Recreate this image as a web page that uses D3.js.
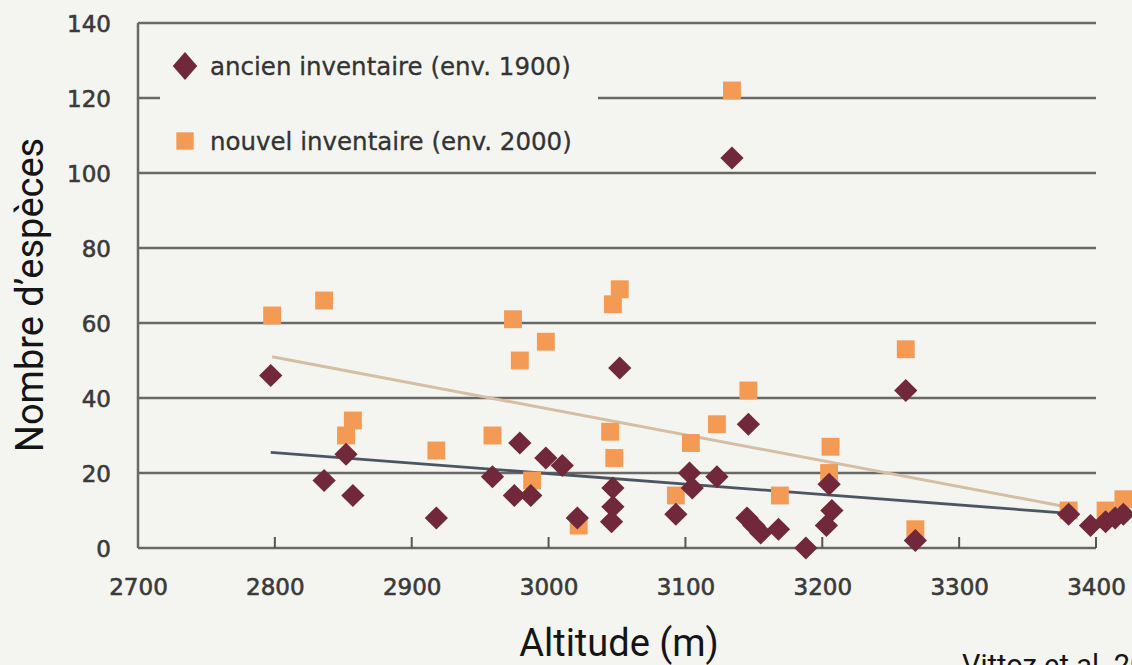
<!DOCTYPE html>
<html>
<head>
<meta charset="utf-8">
<script src="https://cdn.jsdelivr.net/npm/d3@7"></script>
<style>
  body { margin: 0; background: #f4f4f0; }
  svg { display: block; }
</style>
</head>
<body>
<div id="chart"></div>
<script>
'use strict';

// ticks
var xTicks = [2700, 2800, 2900, 3000, 3100, 3200, 3300, 3400];
var yTicks = [0, 20, 40, 60, 80, 100, 120, 140];

// ancien inventaire (env. 1900)
var ancienAlt = [2797, 2836, 2852, 2857, 2918, 2959, 2975, 2979, 2987, 2998, 3010, 3021,
                 3047, 3047, 3046, 3052, 3093, 3103, 3105, 3123, 3134, 3146, 3145, 3150,
                 3155, 3168, 3188, 3203, 3207, 3205, 3261, 3268, 3380, 3396, 3407, 3414, 3420];
var ancienNb  = [46, 18, 25, 14, 8, 19, 14, 28, 14, 24, 22, 8,
                 16, 11, 7, 48, 9, 20, 16, 19, 104, 33, 8, 6,
                 4, 5, 0, 6, 10, 17, 42, 2, 9, 6, 7, 8, 9];

// nouvel inventaire (env. 2000)
var nouvelAlt = [2798, 2836, 2852, 2857, 2918, 2959, 2974, 2979, 2988, 2998, 3022, 3045,
                 3047, 3048, 3052, 3093, 3104, 3123, 3134, 3146, 3169, 3206, 3205, 3261,
                 3268, 3380, 3407, 3420];
var nouvelNb  = [62, 66, 30, 34, 26, 30, 61, 50, 18, 55, 6, 31,
                 65, 24, 69, 14, 28, 33, 122, 42, 14, 27, 20, 53,
                 5, 10, 10, 13];

// droites de tendance
var ancienTrendAlt = [2797, 3378];
var ancienTrendNb  = [25.5, 9.3];
var nouvelTrendAlt = [2798, 3378];
var nouvelTrendNb  = [51, 11];

var legendNames = ['ancien inventaire (env. 1900)', 'nouvel inventaire (env. 2000)'];

var graf = {};
graf.w = 1132;
graf.h = 665;
graf.bg = '#f4f4f0';
graf.gridColor = '#686868';
graf.ancienColor = '#70283a';
graf.nouvelColor = '#f39a55';
graf.xScale = d3.scaleLinear().domain([2700, 3400]).range([138, 1096]);
graf.yScale = d3.scaleLinear().domain([0, 140]).range([548, 23]);

graf.appendSvg = function (div)
{
    var svg = d3.select(div).append('svg')
        .attr('width', graf.w)
        .attr('height', graf.h);
    svg.append('rect')
        .attr('width', graf.w)
        .attr('height', graf.h)
        .attr('fill', graf.bg);
    return svg;
}

graf.appendGrid = function (svg)
{
    var x0 = graf.xScale.range()[0], x1 = graf.xScale.range()[1];
    var grid = svg.append('g').attr('class', 'grid');
    grid.selectAll('line').data(yTicks).enter()
        .append('line')
        .attr('x1', x0)
        .attr('x2', x1)
        .attr('y1', function (d) { return graf.yScale(d); })
        .attr('y2', function (d) { return graf.yScale(d); })
        .attr('stroke', graf.gridColor)
        .attr('stroke-width', 2.5);

    // axe vertical
    svg.append('line')
        .attr('x1', x0).attr('x2', x0)
        .attr('y1', graf.yScale(140)).attr('y2', graf.yScale(0))
        .attr('stroke', graf.gridColor)
        .attr('stroke-width', 2.5);

    // petits traits de graduation sur l'axe x
    svg.append('g').selectAll('line').data(xTicks.slice(1)).enter()
        .append('line')
        .attr('x1', function (d) { return graf.xScale(d); })
        .attr('x2', function (d) { return graf.xScale(d); })
        .attr('y1', graf.yScale(0))
        .attr('y2', graf.yScale(0) - 11)
        .attr('stroke', '#555')
        .attr('stroke-width', 2);
}

graf.appendAxesLabels = function (svg)
{
    var xAxis = d3.axisBottom(graf.xScale).tickValues(xTicks).tickSize(0).tickPadding(0).tickFormat(d3.format('d'));
    var yAxis = d3.axisLeft(graf.yScale).tickValues(yTicks).tickSize(0).tickPadding(0);

    var gx = svg.append('g')
        .attr('class', 'xAxis')
        .attr('transform', 'translate(0,' + graf.yScale(0) + ')')
        .call(xAxis);
    var gy = svg.append('g')
        .attr('class', 'yAxis')
        .attr('transform', 'translate(111,0)')
        .call(yAxis);

    [gx, gy].forEach(function (g) {
        g.select('.domain').remove();
        g.selectAll('text')
            .style('font-family', '"DejaVu Sans", sans-serif')
            .style('font-size', '23px')
            .attr('fill', '#3a3a3a')
            .attr('stroke', '#3a3a3a')
            .attr('stroke-width', 0.6);
    });
    gx.selectAll('text').attr('dy', null).attr('y', 47);
    gy.selectAll('text').attr('x', 0).attr('dy', '0.36em');

    svg.append('text')
        .attr('transform', 'translate(43,295) rotate(-90)')
        .attr('text-anchor', 'middle')
        .style('font-family', 'Roboto, sans-serif')
        .style('font-size', '38px')
        .attr('fill', '#151515')
        .text('Nombre d\u2019esp\u00e8ces');

    svg.append('text')
        .attr('x', 619)
        .attr('y', 656)
        .attr('text-anchor', 'middle')
        .style('font-family', 'Roboto, sans-serif')
        .style('font-size', '38px')
        .attr('fill', '#151515')
        .text('Altitude (m)');

    svg.append('text')
        .attr('x', 962)
        .attr('y', 675)
        .style('font-family', 'Roboto, sans-serif')
        .style('font-size', '29px')
        .attr('fill', '#151515')
        .text('Vittoz et al. 2009');
}

graf.appendTrend = function (svg, alts, nbs, color, width)
{
    var pts = alts.map(function (a, i) { return [a, nbs[i]]; });
    var line = d3.line()
        .x(function (d) { return graf.xScale(d[0]); })
        .y(function (d) { return graf.yScale(d[1]); });
    svg.append('path')
        .attr('d', line(pts))
        .attr('fill', 'none')
        .attr('stroke', color)
        .attr('stroke-width', width);
}

graf.appendSquares = function (svg, alts, nbs)
{
    var sq = d3.symbol().type(d3.symbolSquare).size(320);
    svg.append('g').selectAll('path').data(alts).enter()
        .append('path')
        .attr('d', sq)
        .attr('transform', function (d, i) { return 'translate(' + graf.xScale(d) + ',' + graf.yScale(nbs[i]) + ')'; })
        .attr('fill', graf.nouvelColor);
}

graf.appendDiamonds = function (svg, alts, nbs)
{
    var dm = d3.symbol().type(d3.symbolSquare).size(270);
    svg.append('g').selectAll('path').data(alts).enter()
        .append('path')
        .attr('d', dm)
        .attr('transform', function (d, i) { return 'translate(' + graf.xScale(d) + ',' + graf.yScale(nbs[i]) + ') rotate(45)'; })
        .attr('fill', graf.ancienColor);
}

graf.appendLegend = function (svg)
{
    var g = svg.append('g').attr('class', 'legendGroup');
    g.append('rect')
        .attr('x', 160).attr('y', 36)
        .attr('width', 438).attr('height', 126)
        .attr('fill', graf.bg);
    g.append('path')
        .attr('d', d3.symbol().type(d3.symbolSquare).size(300))
        .attr('transform', 'translate(185,66) scale(1,1.15) rotate(45)')
        .attr('fill', graf.ancienColor);
    g.append('path')
        .attr('d', d3.symbol().type(d3.symbolSquare).size(300))
        .attr('transform', 'translate(185,141)')
        .attr('fill', graf.nouvelColor);
    g.selectAll('text').data(legendNames).enter()
        .append('text')
        .attr('x', 210)
        .attr('y', function (d, i) { return 66 + i * 75; })
        .attr('dy', '0.35em')
        .style('font-family', '"DejaVu Sans", sans-serif')
        .style('font-size', '24.5px')
        .attr('fill', '#333')
        .attr('stroke', '#333')
        .attr('stroke-width', 0.3)
        .text(function (d) { return d; });
}

var svg = graf.appendSvg('#chart');
graf.appendGrid(svg);
graf.appendLegend(svg);
graf.appendAxesLabels(svg);
graf.appendTrend(svg, nouvelTrendAlt, nouvelTrendNb, '#d4bea4', 3);
graf.appendTrend(svg, ancienTrendAlt, ancienTrendNb, '#4c5662', 2.8);
graf.appendSquares(svg, nouvelAlt, nouvelNb);
graf.appendDiamonds(svg, ancienAlt, ancienNb);
</script>
</body>
</html>
